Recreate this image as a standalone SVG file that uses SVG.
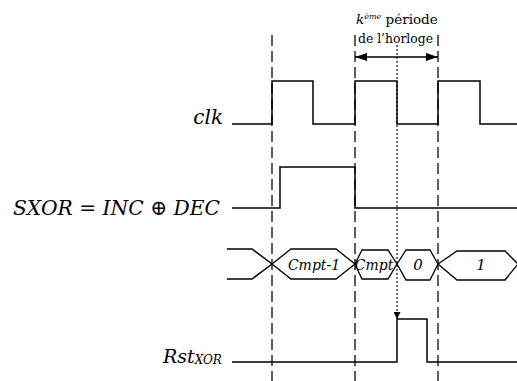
<svg xmlns="http://www.w3.org/2000/svg" width="517" height="381" viewBox="0 0 517 381">
  <defs>
    <style>
      .wave { fill: none; stroke: #000; stroke-width: 1.5; }
      .bus { fill: #fff; stroke: #000; stroke-width: 1.3; }
      .dash { fill: none; stroke: #1a1a1a; stroke-width: 1.4; stroke-dasharray: 11 5; }
      .dot { fill: none; stroke: #1a1a1a; stroke-width: 1.2; stroke-dasharray: 2 2; }
      .lbl { font-family: 'DejaVu Serif', 'Liberation Serif', serif; font-style: italic; fill: #000; }
      .txt { font-family: 'DejaVu Serif', 'Liberation Serif', serif; fill: #000; }
    </style>
    <marker id="ah" viewBox="0 0 12 8" refX="12" refY="4" markerWidth="12" markerHeight="8" markerUnits="userSpaceOnUse" orient="auto-start-reverse">
      <path d="M0,0 L12,4 L0,8 z" fill="#000"/>
    </marker>
    <marker id="ahs" viewBox="0 0 8 8" refX="8" refY="4" markerWidth="7" markerHeight="7" markerUnits="userSpaceOnUse" orient="auto">
      <path d="M0,0 L8,4 L0,8 z" fill="#000"/>
    </marker>
  </defs>

  <g id="connectors">
    <line class="dash" x1="272" y1="35" x2="272" y2="381"/>
    <line class="dash" x1="355" y1="35" x2="355" y2="381"/>
    <line class="dash" x1="438" y1="35" x2="438" y2="381"/>
    <line class="dot" x1="397" y1="45" x2="397" y2="319" marker-end="url(#ahs)"/>
    <line x1="355" y1="57" x2="438" y2="57" stroke="#000" stroke-width="1.5" marker-start="url(#ah)" marker-end="url(#ah)"/>
  </g>

  <g id="period-label">
    <text class="txt" x="356" y="24" font-size="13.5"><tspan font-style="italic">k</tspan><tspan font-style="italic" font-size="8" dy="-5">ème</tspan><tspan dy="5"> période</tspan></text>
    <text class="txt" x="358" y="43" font-size="13.5" textLength="75" lengthAdjust="spacingAndGlyphs">de l’horloge</text>
  </g>

  <g id="clk">
    <text class="lbl" x="223" y="124" font-size="20" text-anchor="end">clk</text>
    <path class="wave" d="M232,124 H272 V81 H313 V124 H355 V81 H397 V124 H438 V81 H480 V124 H517"/>
  </g>

  <g id="sxor">
    <text class="lbl" x="13" y="215" font-size="21" textLength="207" lengthAdjust="spacingAndGlyphs">SXOR = INC ⊕ DEC</text>
    <path class="wave" d="M232,208 H280 V167 H355 V208 H517"/>
  </g>

  <g id="cmpt-bus">
    <path class="wave" d="M227,249 H252 L272,264 M227,279 H252 L272,264"/>
    <polygon class="bus" points="272,264 291,249 336,249 355,264 336,279 291,279"/>
    <polygon class="bus" points="355,264 362,250 388,250 397,264 388,279 362,279"/>
    <polygon class="bus" points="397,264 406,250 430,250 438,264 430,280 406,280"/>
    <polygon class="bus" points="438,264 457,251 505,251 518,264 505,280 457,280"/>
    <text class="lbl" x="314" y="270" font-size="14" text-anchor="middle">Cmpt-1</text>
    <text class="lbl" x="374" y="270" font-size="14" text-anchor="middle">Cmpt</text>
    <text class="lbl" x="418" y="270" font-size="15" text-anchor="middle">0</text>
    <text class="lbl" x="481" y="270" font-size="15" text-anchor="middle">1</text>
  </g>

  <g id="rst">
    <text class="lbl" x="163" y="363" font-size="19">Rst<tspan font-size="12" dy="1">XOR</tspan></text>
    <path class="wave" d="M232,362 H397 V319 H427 V362 H517"/>
  </g>
</svg>
